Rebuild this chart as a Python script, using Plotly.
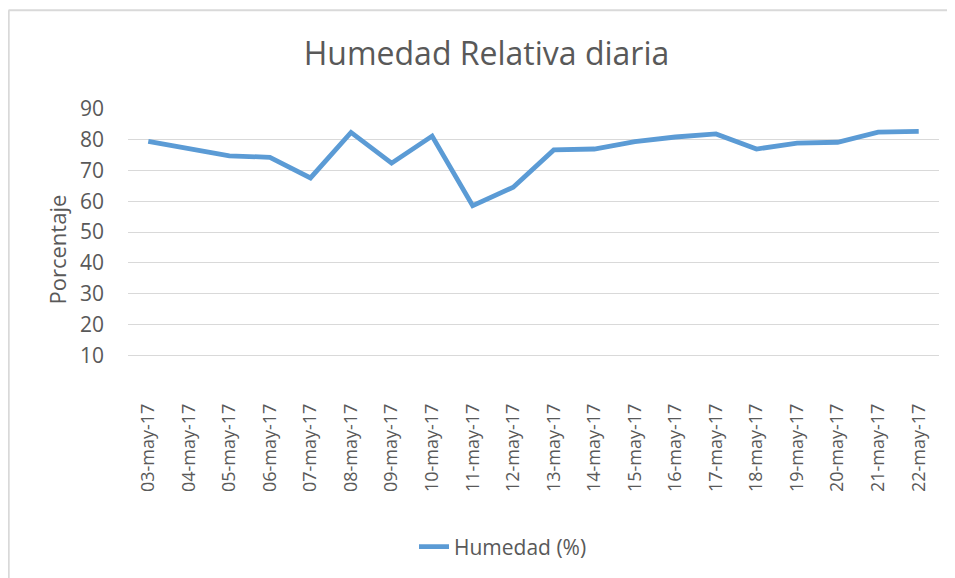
import plotly.graph_objects as go

fechas = ["03-may-17", "04-may-17", "05-may-17", "06-may-17", "07-may-17",
          "08-may-17", "09-may-17", "10-may-17", "11-may-17", "12-may-17",
          "13-may-17", "14-may-17", "15-may-17", "16-may-17", "17-may-17",
          "18-may-17", "19-may-17", "20-may-17", "21-may-17", "22-may-17"]
humedad = [79.5, 77.0, 74.8, 74.3, 67.6, 82.4, 72.4, 81.2, 58.6, 64.6,
           76.7, 77.0, 79.4, 80.9, 81.9, 77.0, 78.9, 79.2, 82.5, 82.7]
y_ticks = [10, 20, 30, 40, 50, 60, 70, 80, 90]

FONT = "Open Sans"
GRAY = "#595959"

fig = go.Figure()
fig.add_trace(go.Scatter(
    x=fechas, y=humedad, mode="lines", name="Humedad (%)",
    line=dict(color="#5B9BD5", width=4.8),
))

# page body has an 8px margin; figure drawn in the remaining space
OFF = 8
W, H = 955 - OFF, 578 - OFF
L, R, T, B = 128 - OFF, 16, 109 - OFF, 191
pw, ph = W - L - R, H - T - B

def px_x(x):  # screen x -> paper
    return (x - OFF - L) / pw

def px_y(y):  # screen y -> paper
    return (H - B - (y - OFF)) / ph

fig.update_layout(
    width=W, height=H,
    margin=dict(l=L, r=R, t=T, b=B),
    paper_bgcolor="white", plot_bgcolor="white",
    font=dict(family=FONT, color=GRAY),
    title=dict(text="Humedad Relativa diaria", x=0.5 * (px_x(303) + px_x(670)),
               xanchor="center", xref="paper",
               y=1 - (54 - OFF) / H, yanchor="middle", yref="container",
               font=dict(size=32, color=GRAY, family=FONT)),
    showlegend=True,
    legend=dict(orientation="h", x=px_x(503), xanchor="center",
                y=px_y(547), yanchor="middle",
                font=dict(size=21, color=GRAY)),
    xaxis=dict(type="category", range=[-0.5, len(fechas) - 0.5],
               tickangle=-90, tickfont=dict(size=18, color=GRAY),
               ticklabelstandoff=13,
               showgrid=False, showline=False, ticks="", zeroline=False),
    yaxis=dict(range=[0, 90], tickvals=y_ticks, showgrid=True,
               gridcolor="#D9D9D9", gridwidth=1, zeroline=False,
               showline=False, ticks="", ticklabelstandoff=23,
               tickfont=dict(size=21, color=GRAY)),
    annotations=[dict(text="Porcentaje", xref="paper", yref="paper",
                      x=px_x(57), y=0.5 * (px_y(195) + px_y(305)),
                      showarrow=False, textangle=-90,
                      font=dict(size=22, color=GRAY),
                      xanchor="center", yanchor="middle")],
    shapes=[
        dict(type="line", xref="paper", yref="paper",
             x0=px_x(8.5), x1=px_x(960), y0=px_y(9.8), y1=px_y(9.8),
             line=dict(color="#D9D9D9", width=2)),
        dict(type="line", xref="paper", yref="paper",
             x0=px_x(8.7), x1=px_x(8.7), y0=px_y(9.8), y1=px_y(590),
             line=dict(color="#D9D9D9", width=2)),
    ],
)

fig.write_html("out.html")
